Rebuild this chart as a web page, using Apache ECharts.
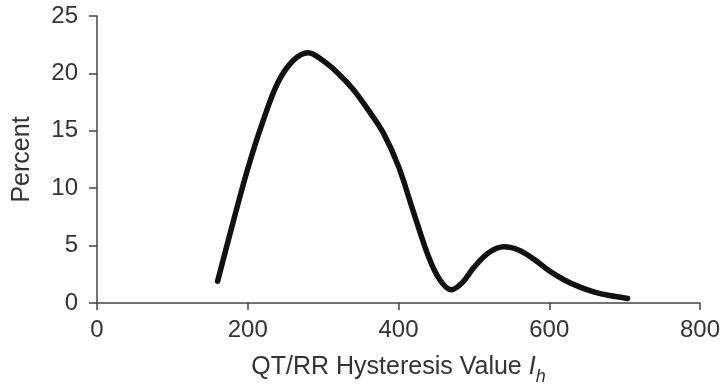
<!DOCTYPE html>
<html>
<head>
<meta charset="utf-8">
<script src="https://cdn.jsdelivr.net/npm/echarts@6/dist/echarts.min.js"></script>
</head>
<body style="margin:0;background:#fff">
<div id="main" style="width:724px;height:391px;"></div>
<script type="text/javascript">
// curve: hysteresis value vs percent
var hystValues = [160, 180, 200, 220, 240, 260, 280, 300, 320, 340, 360, 380, 400, 420, 440, 455, 470, 485, 500, 520, 540, 560, 580, 600, 620, 640, 660, 680, 704];
var percentValues = [1.9, 6.9, 11.7, 15.8, 19.2, 21.1, 21.8, 21.1, 20.0, 18.6, 16.8, 14.8, 11.9, 7.9, 4.0, 2.0, 1.15, 1.8, 3.1, 4.4, 4.9, 4.6, 3.8, 2.8, 2.0, 1.4, 0.95, 0.65, 0.4];
var xTicks = [0, 200, 400, 600, 800];
var yTicks = [0, 5, 10, 15, 20, 25];

var points = [];
for (var i = 0; i < hystValues.length; i++) {
    points.push([hystValues[i], percentValues[i]]);
}

var axisColor = '#444';
var textColor = '#333';
var font = 'Liberation Sans, Arial, sans-serif';

var option = {
    animation: false,
    textStyle: { fontFamily: font },
    grid: { left: 97, right: 24, top: 16, bottom: 86 },
    xAxis: {
        type: 'value',
        min: xTicks[0],
        max: xTicks[xTicks.length - 1],
        interval: 200,
        name: '{n|QT/RR Hysteresis Value }{i|I}{s|h}',
        nameLocation: 'middle',
        nameGap: 46,
        nameTextStyle: {
            rich: {
                n: { fontSize: 25, color: textColor, fontFamily: font },
                i: { fontSize: 25, color: textColor, fontFamily: font, fontStyle: 'italic' },
                s: { fontSize: 18, color: textColor, fontFamily: font, fontStyle: 'italic', padding: [19, 0, 0, 0] }
            }
        },
        axisLine: { lineStyle: { color: axisColor, width: 1.5 } },
        axisTick: { length: 7, lineStyle: { color: axisColor, width: 1.5 } },
        axisLabel: { fontSize: 24, color: textColor, margin: 15 },
        splitLine: { show: false }
    },
    yAxis: {
        type: 'value',
        min: yTicks[0],
        max: yTicks[yTicks.length - 1],
        interval: 5,
        name: 'Percent',
        nameLocation: 'middle',
        nameGap: 62,
        nameTextStyle: { fontSize: 25, color: textColor },
        axisLine: { show: true, lineStyle: { color: axisColor, width: 1.5 } },
        axisTick: { show: true, length: 8, lineStyle: { color: axisColor, width: 1.5 } },
        axisLabel: { fontSize: 24, color: textColor, margin: 19 },
        splitLine: { show: false }
    },
    series: [{
        type: 'line',
        data: points,
        smooth: 0.35,
        showSymbol: false,
        lineStyle: { color: '#111', width: 5.5, cap: 'round' }
    }]
};

var myChart = echarts.init(document.getElementById('main'));
myChart.setOption(option);
</script>
</body>
</html>
